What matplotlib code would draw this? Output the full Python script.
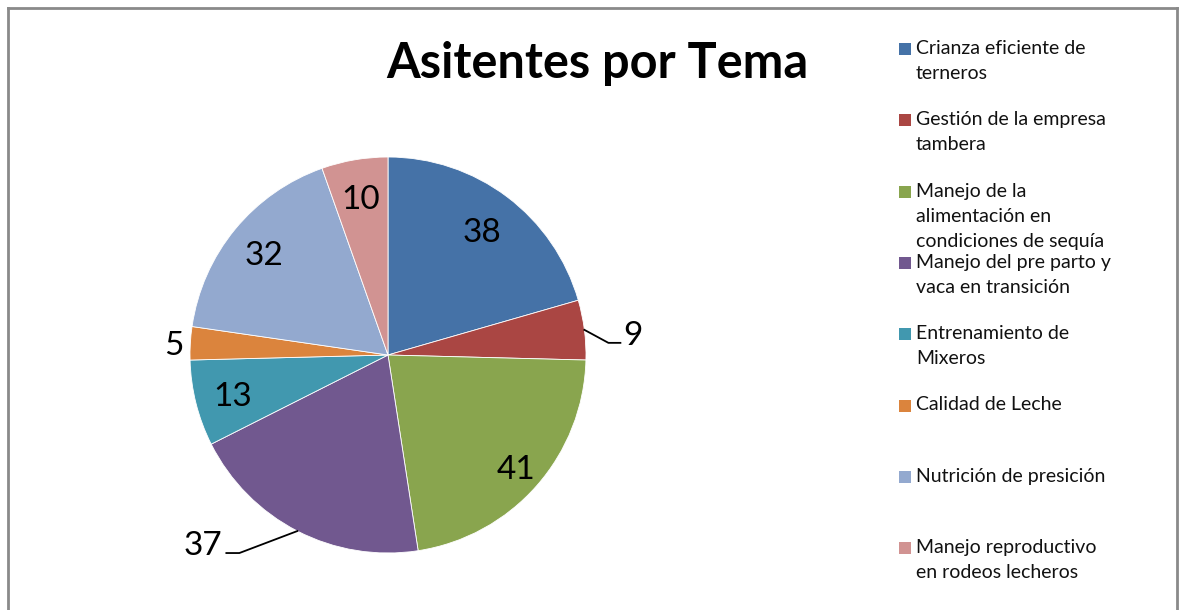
import numpy as np
import matplotlib
matplotlib.use("Agg")
import matplotlib.pyplot as plt
from matplotlib.patches import Rectangle
from matplotlib.lines import Line2D

plt.rcParams['font.family'] = ['Lato', 'DejaVu Sans']

# ---- data ----
title = "Asitentes por Tema"
categories = [
    "Crianza eficiente de\nterneros",
    "Gestión de la empresa\ntambera",
    "Manejo de la\nalimentación en\ncondiciones de sequía",
    "Manejo del pre parto y\nvaca en transición",
    "Entrenamiento de\nMixeros",
    "Calidad de Leche",
    "Nutrición de presición",
    "Manejo reproductivo\nen rodeos lecheros",
]
values = [38, 9, 41, 37, 13, 5, 32, 10]
colors = ["#4572A7", "#AA4643", "#89A54E", "#71588F",
          "#4198AF", "#DB843D", "#93A9CF", "#D19392"]

# ---- style ----
W, H = 1184, 610
fig = plt.figure(figsize=(W / 100, H / 100), dpi=100)
cx, cy, R = 388, 355, 198          # pie centre / radius in pixels
half = 262
ax = fig.add_axes([(cx - half) / W, (H - cy - half) / H, 2 * half / W, 2 * half / H])
lim = half / R

wedges, _ = ax.pie(values, colors=colors, startangle=90, counterclock=False,
                   radius=1.0, center=(0, 0),
                   wedgeprops=dict(edgecolor='white', linewidth=0.6))
ax.set_xlim(-lim, lim)
ax.set_ylim(-lim, lim)
ax.set_aspect('equal')
ax.axis('off')

label_fs = 24
inside_r = {0: 0.79, 2: 0.86}
label_dy = -3 / R   # small downward nudge for visual centring
# outside labels: index -> (elbow offset px, end offset px, text pos px, ha)
outside = {
    1: ((24, -13), (36, -13), (39, -3), 'left'),
    3: ((-58, -22), (-71, -22), (-75, -12), 'right'),
    5: (None, None, (-7, 0), 'right'),
}
total = sum(values)
cum = 0
for i, v in enumerate(values):
    mid = np.deg2rad(90 - (cum + v / 2) / total * 360)
    cum += v
    ex, ey = np.cos(mid), np.sin(mid)
    if i in outside:
        elb, end, tp, ha = outside[i]
        if elb is not None:
            xs = [ex, ex + elb[0] / R, ex + end[0] / R]
            ys = [ey, ey + elb[1] / R, ey + end[1] / R]
            ax.add_line(Line2D(xs, ys, color='black', lw=1.3, clip_on=False))
        ax.text(ex + tp[0] / R, ey + tp[1] / R + label_dy, str(v), ha=ha,
                va='center', fontsize=label_fs, color='black')
    else:
        r = inside_r.get(i, 0.81)
        ax.text(r * ex, r * ey + label_dy, str(v), ha='center', va='center',
                fontsize=label_fs, color='black')

fig.text(597 / W, 1 - 63 / H, title, ha='center', va='center',
         fontsize=35, fontweight='bold')

# legend
leg_y0, leg_dy = 48, 71.3
for i, (lab, col) in enumerate(zip(categories, colors)):
    y = leg_y0 + i * leg_dy
    fig.patches.append(Rectangle((899 / W, 1 - (y + 7) / H), 12 / W, 12 / H,
                                 transform=fig.transFigure, facecolor=col,
                                 edgecolor='none'))
    fig.text(916 / W, 1 - (y - 8) / H, lab, ha='left', va='top',
             fontsize=14, linespacing=1.58, color='#111111')

# frame (left, top, right)
fc = '#8a8a8a'
fig.add_artist(Line2D([7.5 / W, 7.5 / W], [0, 1 - 7.5 / H], color=fc, lw=2,
                      transform=fig.transFigure))
fig.add_artist(Line2D([7.5 / W, 1176.5 / W], [1 - 7.5 / H, 1 - 7.5 / H], color=fc,
                      lw=2, transform=fig.transFigure))
fig.add_artist(Line2D([1176.5 / W, 1176.5 / W], [0, 1 - 7.5 / H], color=fc, lw=2,
                      transform=fig.transFigure))

fig.savefig("out.png", dpi=100, facecolor='white')
